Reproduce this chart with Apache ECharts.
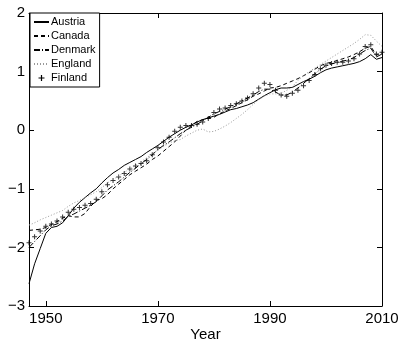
<!DOCTYPE html>
<html>
<head>
<meta charset="utf-8">
<script src="https://cdn.jsdelivr.net/npm/echarts@6/dist/echarts.min.js"></script>
<style>html,body{margin:0;padding:0;background:#fff;}#c{width:402px;height:339px;}</style>
</head>
<body>
<div id="c"></div>
<script>
var years = [1947,1948,1949,1950,1951,1952,1953,1954,1955,1956,
  1957,1958,1959,1960,1961,1962,1963,1964,1965,1966,
  1967,1968,1969,1970,1971,1972,1973,1974,1975,1976,
  1977,1978,1979,1980,1981,1982,1983,1984,1985,1986,
  1987,1988,1989,1990,1991,1992,1993,1994,1995,1996,
  1997,1998,1999,2000,2001,2002,2003,2004,2005,2006,
  2007,2008,2009,2010];
var austria = [-2.62,-2.28,-2.02,-1.76,-1.66,-1.64,-1.58,-1.46,-1.33,-1.23,
  -1.15,-1.07,-1.00,-0.90,-0.81,-0.73,-0.67,-0.60,-0.55,-0.50,
  -0.45,-0.38,-0.32,-0.26,-0.19,-0.12,-0.06,0.00,0.05,0.09,
  0.14,0.18,0.21,0.24,0.27,0.31,0.35,0.37,0.40,0.43,
  0.47,0.53,0.59,0.64,0.69,0.72,0.72,0.73,0.78,0.83,
  0.87,0.92,0.98,1.03,1.06,1.08,1.10,1.12,1.14,1.17,
  1.22,1.29,1.21,1.24];
var canada = [-1.71,-1.70,-1.69,-1.66,-1.61,-1.56,-1.50,-1.46,-1.48,-1.48,
  -1.42,-1.30,-1.20,-1.17,-1.10,-1.00,-0.92,-0.84,-0.76,-0.70,
  -0.64,-0.58,-0.50,-0.44,-0.36,-0.28,-0.20,-0.10,0.00,0.08,
  0.15,0.18,0.20,0.22,0.28,0.33,0.37,0.42,0.47,0.52,
  0.58,0.62,0.67,0.72,0.73,0.76,0.80,0.84,0.88,0.93,
  0.98,1.04,1.10,1.14,1.16,1.19,1.22,1.25,1.29,1.34,
  1.40,1.43,1.28,1.32];
var denmark = [-2.00,-1.90,-1.80,-1.70,-1.63,-1.60,-1.55,-1.47,-1.43,-1.38,
  -1.33,-1.28,-1.22,-1.12,-1.02,-0.95,-0.88,-0.80,-0.72,-0.65,
  -0.57,-0.50,-0.42,-0.33,-0.26,-0.20,-0.13,-0.06,0.00,0.05,
  0.10,0.16,0.22,0.28,0.32,0.36,0.40,0.45,0.50,0.55,
  0.60,0.66,0.70,0.70,0.65,0.60,0.60,0.65,0.72,0.80,
  0.88,0.96,1.04,1.10,1.13,1.16,1.18,1.20,1.24,1.30,
  1.36,1.40,1.25,1.30];
var england = [-1.62,-1.58,-1.53,-1.49,-1.45,-1.41,-1.37,-1.30,-1.24,-1.20,
  -1.15,-1.10,-1.05,-0.98,-0.90,-0.84,-0.78,-0.72,-0.66,-0.60,
  -0.54,-0.47,-0.40,-0.34,-0.28,-0.22,-0.18,-0.16,-0.10,-0.05,
  0.00,0.02,-0.03,-0.02,0.02,0.07,0.13,0.20,0.27,0.35,
  0.44,0.52,0.58,0.62,0.62,0.63,0.68,0.74,0.85,0.93,
  1.00,1.06,1.12,1.18,1.24,1.30,1.36,1.42,1.48,1.55,
  1.63,1.62,1.52,1.43];
var finland = [-1.92,-1.82,-1.72,-1.64,-1.60,-1.55,-1.48,-1.40,-1.35,-1.32,
  -1.28,-1.25,-1.18,-1.05,-0.93,-0.86,-0.80,-0.74,-0.66,-0.61,
  -0.57,-0.52,-0.42,-0.30,-0.20,-0.12,-0.02,0.05,0.08,0.08,
  0.10,0.14,0.20,0.30,0.36,0.38,0.42,0.45,0.50,0.55,
  0.62,0.72,0.80,0.78,0.68,0.60,0.58,0.63,0.68,0.76,
  0.85,0.95,1.05,1.11,1.14,1.16,1.16,1.18,1.22,1.30,
  1.43,1.46,1.30,1.33];
var xTicks = [1950,1970,1990,2010];
var seriesNames = ['Austria','Canada','Denmark','England','Finland'];

function pairs(vals){ return years.map(function(y,i){ return [y, vals[i]]; }); }
var plusPath = 'path://M-0.2,-1 L0.2,-1 L0.2,-0.2 L1,-0.2 L1,0.2 L0.2,0.2 L0.2,1 L-0.2,1 L-0.2,0.2 L-1,0.2 L-1,-0.2 L-0.2,-0.2 Z';
var font = 'Liberation Sans, Arial, sans-serif';
function yFmt(v){ return v < 0 ? '\u2212' + (-v) : String(v); }
function xFmt(v){ return String(v); }

var chart = echarts.init(document.getElementById('c'), null, {renderer:'canvas'});
var axLine = {show:true, onZero:false, lineStyle:{color:'#000', width:1}};
chart.setOption({
  animation:false,
  backgroundColor:'#fff',
  grid:{left:29, right:20, top:13, bottom:33, containLabel:false, outerBoundsMode:'none'},
  legend:{
    orient:'vertical', left:30, top:13,
    data: seriesNames.map(function(n){
      return n==='Finland' ? {name:n, icon:plusPath, itemStyle:{opacity:1}} : {name:n};
    }),
    itemStyle:{opacity:0},
    backgroundColor:'#fff', borderColor:'#000', borderWidth:1,
    padding:[2,4,2,3], itemGap:0, itemWidth:15, itemHeight:6,
    textStyle:{fontFamily:font, fontSize:11, color:'#000', lineHeight:14, padding:[0,0,0,-3]}
  },
  xAxis:[{
    type:'value', min:1947, max:2010, position:'bottom',
    name:'Year', nameLocation:'middle', nameGap:21, nameMoveOverlap:false,
    nameTextStyle:{fontFamily:font, fontSize:15, color:'#000', verticalAlign:'top'},
    axisLine:axLine, splitLine:{show:false},
    axisTick:{show:true, inside:true, length:5, lineStyle:{color:'#000'}, customValues:xTicks},
    axisLabel:{fontFamily:font, fontSize:15, color:'#000', margin:5, customValues:xTicks, formatter:xFmt}
  },{
    type:'value', min:1947, max:2010, position:'top',
    axisLine:axLine, splitLine:{show:false},
    axisTick:{show:true, inside:true, length:5, lineStyle:{color:'#000'}, customValues:xTicks},
    axisLabel:{show:false}
  }],
  yAxis:[{
    type:'value', min:-3, max:2, interval:1, position:'left',
    axisLine:axLine, splitLine:{show:false},
    axisTick:{show:true, inside:true, length:5, lineStyle:{color:'#000'}},
    axisLabel:{fontFamily:font, fontSize:15, color:'#000', margin:4, formatter:yFmt}
  },{
    type:'value', min:-3, max:2, interval:1, position:'right',
    axisLine:axLine, splitLine:{show:false},
    axisTick:{show:true, inside:true, length:5, lineStyle:{color:'#000'}},
    axisLabel:{show:false}
  }],
  series:[
    {name:'Austria', type:'line', data:pairs(austria), symbol:'none', lineStyle:{color:'#000', width:1, type:'solid'}, itemStyle:{color:'#000'}},
    {name:'Canada', type:'line', data:pairs(canada), symbol:'none', lineStyle:{color:'#000', width:1, type:[4,3]}, itemStyle:{color:'#000'}},
    {name:'Denmark', type:'line', data:pairs(denmark), symbol:'none', lineStyle:{color:'#000', width:1, type:[6,2,1,2]}, itemStyle:{color:'#000'}},
    {name:'England', type:'line', data:pairs(england), symbol:'none', lineStyle:{color:'#999', width:1, type:[1,2]}, itemStyle:{color:'#999'}},
    {name:'Finland', type:'scatter', data:pairs(finland), symbol:plusPath, symbolSize:5, itemStyle:{color:'#000'}}
  ]
});
</script>
</body>
</html>
